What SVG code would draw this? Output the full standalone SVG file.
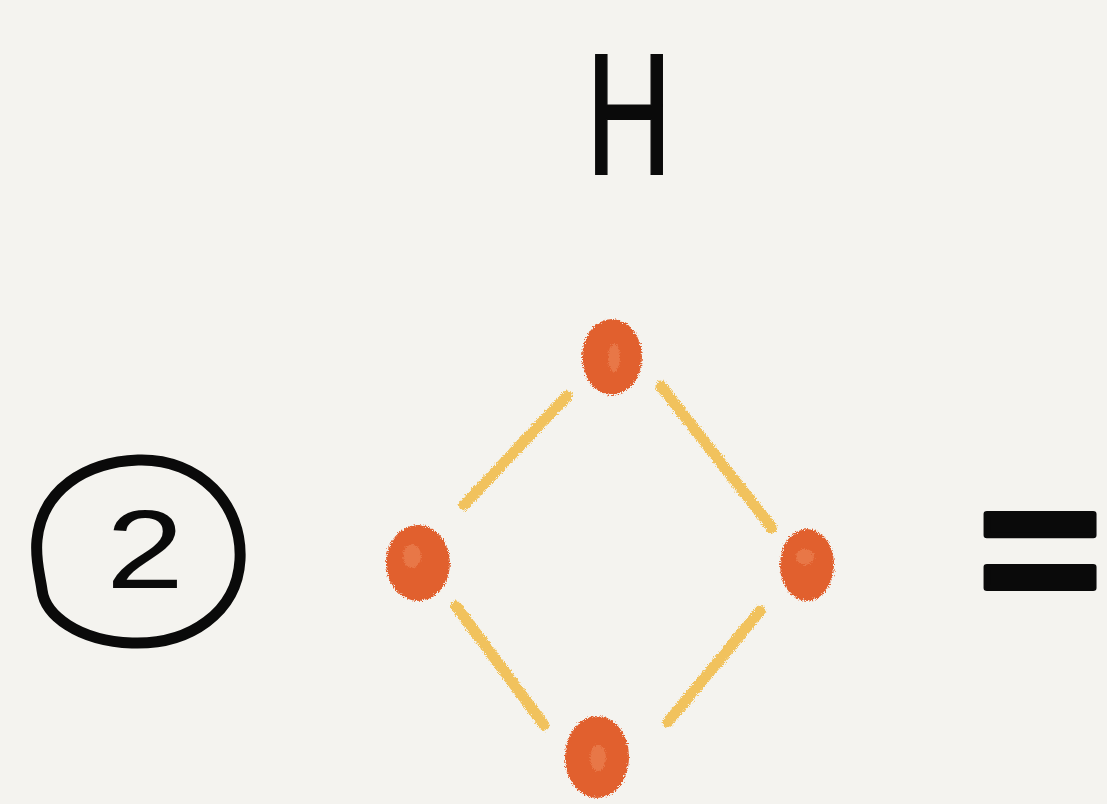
<svg xmlns="http://www.w3.org/2000/svg" width="1107" height="804" viewBox="0 0 1107 804">
  <style>
    .ink { font-family: "Liberation Sans", Arial, sans-serif; fill: #0a0a0a; }
    .dot { fill: #e1612e; filter: url(#crayon); }
    .dotcore { fill: #ef8a5c; opacity: 0.55; filter: url(#crayon); }
    .edge { stroke: #f1bc48; stroke-width: 11; stroke-linecap: round; fill: none; opacity: 0.88; filter: url(#crayon); }
  </style>
  <defs>
    <filter id="crayon" x="-20%" y="-20%" width="140%" height="140%">
      <feTurbulence type="fractalNoise" baseFrequency="0.9" numOctaves="2" seed="3" result="n"/>
      <feDisplacementMap in="SourceGraphic" in2="n" scale="6" xChannelSelector="R" yChannelSelector="G"/>
    </filter>
  </defs>
  <rect width="1107" height="804" fill="#f4f3ef"/>

  <g id="title-H">
    <text class="ink" x="586" y="174" font-size="172" textLength="86" lengthAdjust="spacingAndGlyphs" stroke="#0a0a0a" stroke-width="2">H</text>
  </g>

  <g id="label-2">
    <path d="M138,460 C200,458 243,505 240,560 C237,612 190,645 132,643 C78,641 45,615 42,590 C40,575 35,560 37,540 C42,490 85,462 138,460 Z" fill="none" stroke="#0a0a0a" stroke-width="11" stroke-linejoin="round"/>
    <text class="ink" x="106" y="588" font-size="112" textLength="78" lengthAdjust="spacingAndGlyphs">2</text>
  </g>

  <g id="connectors">
    <line class="edge" x1="464" y1="505" x2="567" y2="396"/>
    <line class="edge" x1="661" y1="386" x2="772" y2="528"/>
    <line class="edge" x1="456" y1="606" x2="544" y2="725"/>
    <line class="edge" x1="760" y1="611" x2="668" y2="722"/>
  </g>

  <g id="node-top">
    <ellipse class="dot" cx="612" cy="357" rx="30" ry="38"/>
    <ellipse class="dotcore" cx="614" cy="358" rx="6" ry="14"/>
  </g>
  <g id="node-left">
    <ellipse class="dot" cx="418" cy="563" rx="32" ry="38"/>
    <ellipse class="dotcore" cx="412" cy="556" rx="9" ry="12"/>
  </g>
  <g id="node-right">
    <ellipse class="dot" cx="807" cy="565" rx="27" ry="36"/>
    <ellipse class="dotcore" cx="805" cy="557" rx="9" ry="8"/>
  </g>
  <g id="node-bottom">
    <ellipse class="dot" cx="597" cy="757" rx="32" ry="41"/>
    <ellipse class="dotcore" cx="598" cy="758" rx="8" ry="13"/>
  </g>

  <g id="equals">
    <text class="ink" x="978" y="616" font-size="195" font-weight="bold" textLength="124" lengthAdjust="spacingAndGlyphs" stroke="#0a0a0a" stroke-width="6" stroke-linejoin="round">=</text>
  </g>
</svg>
